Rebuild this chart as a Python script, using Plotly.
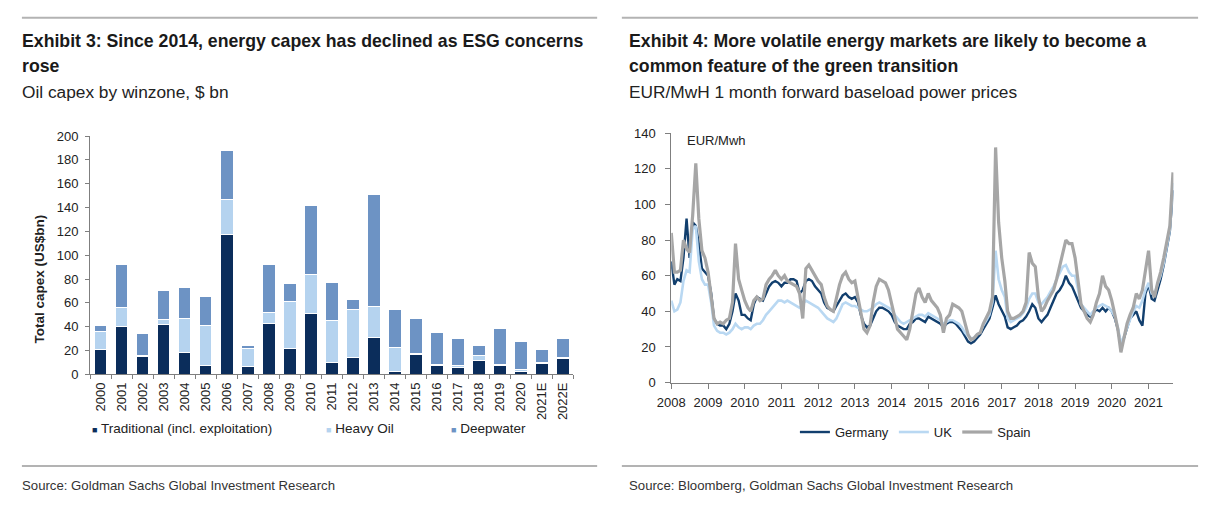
import plotly.graph_objects as go
import pandas as pd

W, H = 1206, 508

# ---------------- Exhibit 3 data ----------------
categories = ["2000", "2001", "2002", "2003", "2004", "2005", "2006", "2007", "2008", "2009",
              "2010", "2011", "2012", "2013", "2014", "2015", "2016", "2017", "2018", "2019",
              "2020", "2021E", "2022E"]
traditional = [21, 40, 15, 42, 18, 7, 117, 6.5, 43, 22, 51, 10, 14, 31, 2.5, 16.5, 7, 6, 11.5, 7.5, 2.7, 9, 13.3]
heavy_oil = [15, 16, 1, 4, 29, 34, 30, 15, 9, 39, 33, 35, 40, 26, 20, 1, 1, 1, 4.5, 0.5, 1, 1, 1]
deepwater = [5, 36, 18, 24, 26, 24, 41, 2.5, 40, 15, 58, 32, 9, 94, 31.5, 29.5, 27, 23, 8, 30.5, 24, 10.5, 16]

# ---------------- Exhibit 4 data (monthly, Jan 2008 - Sep 2021) ----------------
months = pd.date_range("2008-01-01", "2021-09-01", freq="MS")
germany = [
    68, 55, 58, 57, 70, 92, 70, 90, 88, 78, 64, 62,      # 2008
    60, 50, 36, 33, 32, 32, 30, 33, 40, 50, 46, 38,      # 2009
    38, 36, 35, 44, 48, 47, 46, 50, 54, 56, 57, 56,      # 2010
    54, 56, 56, 58, 58, 57, 50, 52, 57, 58, 57, 54,      # 2011
    52, 50, 45, 42, 41, 40, 43, 46, 49, 50, 48, 47,      # 2012
    48, 45, 38, 33, 31, 32, 36, 40, 42, 42, 41, 40,      # 2013
    38, 34, 32, 31, 30, 30, 33, 34, 36, 36, 35, 34,      # 2014
    37, 36, 35, 34, 33, 31, 33, 34, 34, 33, 31, 29,      # 2015
    26, 23, 22, 23, 25, 27, 30, 33, 36, 42, 49, 44,      # 2016
    40, 37, 31, 30, 31, 32, 34, 35, 37, 40, 44, 42,      # 2017
    36, 34, 36, 38, 42, 46, 50, 52, 55, 60, 56, 54,      # 2018
    50, 46, 42, 40, 38, 37, 39, 41, 40, 42, 40, 42,      # 2019
    40, 36, 30, 20, 25, 30, 36, 38, 40, 35, 32, 50,      # 2020
    55, 47, 46, 52, 58, 66, 76, 85, 108,                 # 2021
]
uk = [
    46, 40, 41, 45, 57, 63, 62, 86, 88, 68, 58, 55,
    55, 45, 32, 29, 28, 28, 27, 28, 30, 33, 31, 30,
    31, 31, 30, 32, 33, 33, 35, 38, 40, 42, 44, 46,
    46, 45, 46, 45, 44, 43, 42, 44, 46, 45, 44, 43,
    42, 40, 38, 36, 35, 34, 36, 40, 44, 45, 44, 43,
    43, 42, 41, 40, 40, 41, 42, 44, 45, 44, 43, 42,
    41, 38, 36, 34, 33, 34, 35, 36, 37, 38, 38, 37,
    39, 38, 37, 36, 35, 33, 34, 35, 35, 34, 33, 31,
    28, 26, 25, 25, 27, 28, 32, 35, 38, 45, 74, 58,
    52, 48, 36, 34, 35, 36, 37, 39, 42, 47, 50, 50,
    45, 44, 46, 48, 51, 54, 58, 62, 65, 66, 62, 60,
    60, 52, 44, 42, 40, 38, 40, 42, 43, 44, 43, 42,
    40, 37, 31, 22, 26, 31, 36, 40, 43, 42, 46, 52,
    56, 50, 50, 55, 60, 67, 77, 86, 112,
]
spain = [
    84, 62, 62, 63, 80, 75, 73, 94, 123, 92, 74, 70,
    62, 48, 36, 33, 34, 33, 35, 36, 45, 78, 58, 52,
    46, 42, 40, 46, 48, 46, 47, 55, 58, 60, 63, 60,
    58, 60, 57, 56, 55, 54, 50, 36, 64, 66, 63, 60,
    57, 55, 48, 43, 41, 40, 48, 55, 60, 62, 58, 56,
    57, 48, 38, 30, 28, 32, 45, 54, 58, 57, 56, 52,
    44, 36, 30, 28, 26, 24, 30, 40, 50, 53, 48, 45,
    50, 46, 44, 42, 38, 28, 36, 38, 44, 43, 42, 40,
    33, 27, 24, 25, 27, 28, 33, 37, 40, 48, 132, 90,
    70, 57, 40, 36, 36, 37, 38, 40, 45, 73, 67, 65,
    48, 40, 42, 46, 49, 52, 58, 65, 72, 80, 78, 78,
    70, 55, 44, 40, 36, 34, 38, 45, 50, 60, 54, 52,
    46, 38, 30, 17, 24, 33, 38, 42, 50, 47, 52, 62,
    74, 52, 48, 56, 62, 70, 80, 88, 118,
]

C_TRAD, C_HEAVY, C_DEEP = "#0b2d5b", "#b5d3ef", "#6d93c4"
C_GER, C_UK, C_ESP = "#123f6e", "#b9d8f2", "#a6a6a6"
ARIAL = "Liberation Sans, Arial, sans-serif"
TXT = "#222222"


def px(x):
    return x / W


def py(y):
    return 1 - y / H


fig = go.Figure()

for name, vals, col in [("Traditional (incl. exploitation)", traditional, C_TRAD),
                        ("Heavy Oil", heavy_oil, C_HEAVY),
                        ("Deepwater", deepwater, C_DEEP)]:
    fig.add_trace(go.Bar(x=categories, y=vals, name=name, marker_color=col,
                         marker_line_color="white", marker_line_width=1,
                         xaxis="x", yaxis="y", showlegend=False))

for name, vals, col, wd in [("Germany", germany, C_GER, 2.4),
                            ("UK", uk, C_UK, 2.6),
                            ("Spain", spain, C_ESP, 3.2)]:
    fig.add_trace(go.Scatter(x=months, y=vals, name=name, mode="lines",
                             line=dict(color=col, width=wd), xaxis="x2", yaxis="y2"))

axis_common = dict(showline=True, linecolor="#7f7f7f", linewidth=1, ticks="outside",
                   tickcolor="#7f7f7f", showgrid=False, zeroline=False,
                   tickfont=dict(family=ARIAL, size=13, color=TXT))

fig.update_layout(
    width=W, height=H, margin=dict(l=0, r=0, t=0, b=0),
    paper_bgcolor="white", plot_bgcolor="white",
    barmode="stack", bargap=0.4,
    xaxis=dict(domain=[px(77), px(566)], tickangle=-90, tickson="boundaries", ticklen=4,
               ticklabelstandoff=2, anchor="y", **axis_common),
    yaxis=dict(domain=[py(378.5), py(133)], range=[0, 200], dtick=20, ticklen=4,
               ticklabelstandoff=4, anchor="x", **axis_common),
    xaxis2=dict(domain=[px(665), px(1173)], type="date",
                range=["2008-01-01", "2021-09-05"], dtick="M12", tickformat="%Y",
                tick0="2008-01-01", ticklen=5, ticklabelstandoff=3, anchor="y2", **axis_common),
    yaxis2=dict(domain=[py(387), py(130)], range=[0, 140], dtick=20, ticklen=5,
                ticklabelstandoff=7, anchor="x2", **axis_common),
    legend=dict(orientation="h", x=px(912), xanchor="center", y=py(438), yanchor="middle",
                font=dict(family=ARIAL, size=13, color=TXT), bgcolor="rgba(0,0,0,0)",
                traceorder="normal"),
)

# rules
for x0, x1 in [(8, 590), (615, 1198)]:
    for yy in (11, 473):
        fig.add_shape(type="line", xref="paper", yref="paper", x0=px(x0), x1=px(x1),
                      y0=py(yy), y1=py(yy), line=dict(color="#b3b3b3", width=2))

ann = []


def text(x, y, s, size, family=ARIAL, color=TXT, xanchor="left", yanchor="top", angle=0):
    ann.append(dict(x=px(x), y=py(y), xref="paper", yref="paper", text=s, showarrow=False,
                    xanchor=xanchor, yanchor=yanchor, align="left", textangle=angle,
                    font=dict(family=family, size=size, color=color)))


TITLE_C = "#1a1a1a"
text(6, 23, "<b>Exhibit 3: Since 2014, energy capex has declined as ESG concerns</b>", 17.7, color=TITLE_C)
text(6, 48, "<b>rose</b>", 17.7, color=TITLE_C)
text(6, 75, "Oil capex by winzone, $ bn", 17.3)
text(620, 23, "<b>Exhibit 4: More volatile energy markets are likely to become a</b>", 17.7, color=TITLE_C)
text(620, 48, "<b>common feature of the green transition</b>", 17.7, color=TITLE_C)
text(620, 75, "EUR/MwH 1 month forward baseload power prices", 17.3)
text(6, 483, "Source: Goldman Sachs Global Investment Research", 13.2, color="#333333")
text(620, 483, "Source: Bloomberg, Goldman Sachs Global Investment Research", 13.2, color="#333333")
text(26, 280, "<b>Total capex (US$bn)</b>", 13.5, xanchor="center", yanchor="middle", angle=-90)
text(679, 138, "EUR/Mwh", 13, yanchor="middle")

# bar legend
for x0, name, col in [(77, "Traditional (incl. exploitation)", C_TRAD),
                      (314, "Heavy Oil", C_HEAVY),
                      (440, "Deepwater", C_DEEP)]:
    text(x0, 434, f"<span style='color:{col};font-size:9px'>■</span> {name}", 13.5,
         yanchor="middle")

fig.update_layout(annotations=ann)
fig.write_html("out.html")
